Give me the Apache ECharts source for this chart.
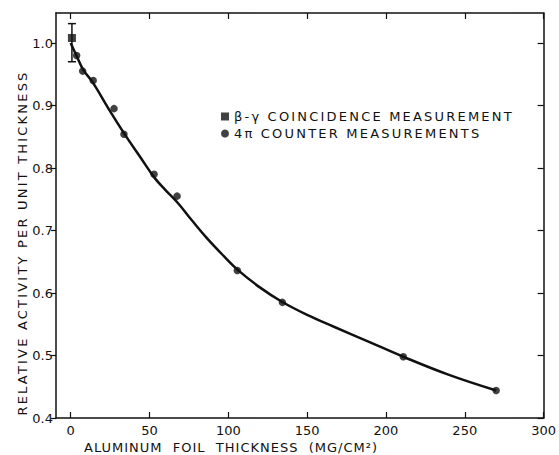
<!DOCTYPE html>
<html>
<head>
<meta charset="utf-8">
<script src="https://cdn.jsdelivr.net/npm/echarts@6/dist/echarts.min.js"></script>
<style>
  html, body { margin: 0; padding: 0; background: #fff; }
  #chart { width: 559px; height: 455px; }
</style>
</head>
<body>
<div id="chart"></div>
<script>
// beta-gamma coincidence point with error bar
var coinX = [0.8];
var coinY = [1.008];
var coinLow = [0.970];
var coinHigh = [1.031];

// 4 pi counter measurements
var counterX = [3.8, 7.6, 14.3, 27.5, 33.8, 52.9, 67.5, 105.7, 134.3, 211, 269.9];
var counterY = [0.980, 0.955, 0.940, 0.895, 0.854, 0.790, 0.755, 0.636, 0.585, 0.498, 0.444];

// hand drawn fit curve
var curveX = [0, 4, 8, 14, 24, 34, 44, 53, 60, 68, 77, 86, 96, 106, 120, 134, 150, 167, 190, 211, 240, 270];
var curveY = [1.0, 0.978, 0.957, 0.937, 0.895, 0.855, 0.818, 0.785, 0.765, 0.744, 0.716, 0.689, 0.662, 0.637, 0.609, 0.586, 0.565, 0.546, 0.521, 0.498, 0.469, 0.444];

var xTicks = [0, 50, 100, 150, 200, 250, 300];
var yTicks = [0.4, 0.5, 0.6, 0.7, 0.8, 0.9, 1.0];

var legendNames = ['β-γ COINCIDENCE MEASUREMENT', '4π COUNTER MEASUREMENTS'];
var yTitle = 'RELATIVE ACTIVITY PER UNIT THICKNESS';
var xTitle = 'ALUMINUM  FOIL  THICKNESS  (MG/CM²)';

function zip(a, b) {
  return a.map(function (v, i) { return [v, b[i]]; });
}

var font = 'DejaVu Sans';
var ink = '#111';
var xMin = -9.3, xMax = 300, yMin = 0.4, yMax = 1.048;

var myChart = echarts.init(document.getElementById('chart'), null, { renderer: 'svg' });

function frameAxis(extra) {
  var base = {
    type: 'value',
    axisLine: { onZero: false, lineStyle: { color: ink, width: 1.5 } },
    axisTick: { inside: true, length: 6, lineStyle: { color: ink, width: 1.2 } },
    axisLabel: { show: false },
    splitLine: { show: false }
  };
  return Object.assign(base, extra);
}

var option = {
  backgroundColor: '#fff',
  animation: false,
  grid: { left: 56, right: 15, top: 13, bottom: 37 },
  legend: {
    orient: 'vertical',
    left: 216,
    top: 105,
    itemWidth: 8,
    itemHeight: 8,
    itemGap: 4,
    data: legendNames,
    textStyle: { fontFamily: font, fontSize: 13, color: ink }
  },
  xAxis: [
    frameAxis({
      min: xMin, max: xMax, minInterval: 50, maxInterval: 50,
      axisTick: { inside: true, length: 6, customValues: xTicks, lineStyle: { color: ink, width: 1.2 } },
      axisLabel: {
        show: true, customValues: xTicks, showMinLabel: true,
        fontFamily: font, fontSize: 13, color: ink, margin: 6,
        formatter: function (v) { return xTicks.indexOf(v) >= 0 ? String(v) : ''; }
      }
    }),
    frameAxis({
      position: 'top', min: xMin, max: xMax, minInterval: 50, maxInterval: 50,
      axisTick: { inside: true, length: 6, customValues: xTicks, lineStyle: { color: ink, width: 1.2 } }
    })
  ],
  yAxis: [
    frameAxis({
      min: yMin, max: yMax, minInterval: 0.1, maxInterval: 0.1,
      axisTick: { inside: false, length: 5, customValues: yTicks, lineStyle: { color: ink, width: 1.2 } },
      axisLabel: {
        show: true, customValues: yTicks,
        fontFamily: font, fontSize: 13, color: ink, margin: 3,
        formatter: function (v) { return yTicks.indexOf(+v.toFixed(1)) >= 0 && Math.abs(v - +v.toFixed(1)) < 1e-6 ? v.toFixed(1) : ''; }
      }
    }),
    frameAxis({
      position: 'right', min: yMin, max: yMax, minInterval: 0.1, maxInterval: 0.1,
      axisTick: { inside: true, length: 6, customValues: yTicks, lineStyle: { color: ink, width: 1.2 } }
    })
  ],
  graphic: [{
    type: 'text',
    x: 22, y: 243,
    rotation: Math.PI / 2,
    style: {
      text: yTitle,
      font: '13px "DejaVu Sans"',
      fill: ink,
      textAlign: 'center',
      textVerticalAlign: 'middle'
    }
  }, {
    type: 'text',
    x: 231, y: 447,
    style: {
      text: xTitle,
      font: '13px "DejaVu Sans"',
      fill: ink,
      textAlign: 'center',
      textVerticalAlign: 'middle'
    }
  }],
  series: [{
    name: 'curve',
    type: 'line',
    data: zip(curveX, curveY),
    smooth: 0.4,
    showSymbol: false,
    lineStyle: { color: ink, width: 2.5 },
    z: 2
  }, {
    name: 'error',
    type: 'custom',
    data: coinX.map(function (v, i) { return [v, coinLow[i], coinHigh[i]]; }),
    encode: { x: 0, y: [1, 2] },
    renderItem: function (params, api) {
      var lo = api.coord([api.value(0), api.value(1)]);
      var hi = api.coord([api.value(0), api.value(2)]);
      var w = 4;
      var st = { stroke: ink, lineWidth: 1.5 };
      return {
        type: 'group',
        children: [
          { type: 'line', shape: { x1: lo[0], y1: lo[1], x2: hi[0], y2: hi[1] }, style: st },
          { type: 'line', shape: { x1: lo[0] - w, y1: lo[1], x2: lo[0] + w, y2: lo[1] }, style: st },
          { type: 'line', shape: { x1: hi[0] - w, y1: hi[1], x2: hi[0] + w, y2: hi[1] }, style: st }
        ]
      };
    },
    z: 3
  }, {
    name: legendNames[0],
    type: 'scatter',
    symbol: 'rect',
    symbolSize: 8,
    data: zip(coinX, coinY),
    itemStyle: { color: ink },
    z: 4
  }, {
    name: legendNames[1],
    type: 'scatter',
    symbol: 'circle',
    symbolSize: 7.5,
    data: zip(counterX, counterY),
    itemStyle: { color: ink },
    z: 4
  }]
};

myChart.setOption(option);

// the original lettering is widely tracked, spread the long labels out
var tracking = {};
tracking[legendNames[0]] = 2.2;
tracking[legendNames[1]] = 2.2;
tracking[yTitle] = 2.2;
tracking[xTitle] = 1;
function spreadText() {
  document.querySelectorAll('#chart svg text').forEach(function (t) {
    var s = tracking[t.textContent];
    if (s) t.setAttribute('letter-spacing', s);
  });
}
spreadText();
myChart.on('finished', spreadText);
</script>
</body>
</html>
